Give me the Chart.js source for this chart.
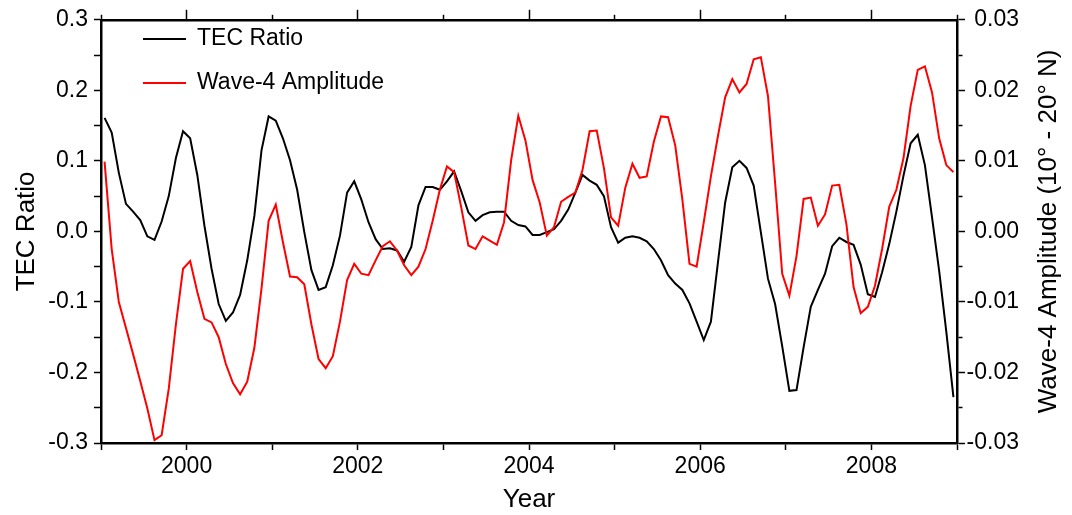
<!DOCTYPE html>
<html>
<head>
<meta charset="utf-8">
<script src="https://cdn.jsdelivr.net/npm/chart.js@4.4.1/dist/chart.umd.min.js"></script>
<style>
    body { margin: 0; background: #fff; }
    #tec-chart { display: block; }
</style>
</head>
<body>
<canvas id="tec-chart" width="1072" height="515"></canvas>
<script>
    // monthly means, Jan 1999 .. Dec 2008
    const startYear = 1999;
    const tecRatio = [
        0.161, 0.140, 0.083, 0.039, 0.028, 0.016, -0.007, -0.012, 0.014, 0.050, 0.104, 0.142,
        0.132, 0.080, 0.008, -0.053, -0.103, -0.127, -0.115, -0.090, -0.041, 0.022, 0.115, 0.163,
        0.157, 0.132, 0.101, 0.059, -0.001, -0.055, -0.083, -0.079, -0.048, -0.006, 0.055, 0.071,
        0.045, 0.013, -0.011, -0.025, -0.024, -0.027, -0.043, -0.022, 0.037, 0.063, 0.063, 0.059,
        0.071, 0.085, 0.057, 0.027, 0.015, 0.023, 0.027, 0.028, 0.028, 0.015, 0.009, 0.007,
        -0.005, -0.005, -0.001, 0.003, 0.015, 0.031, 0.055, 0.080, 0.072, 0.066, 0.050, 0.006,
        -0.016, -0.009, -0.007, -0.009, -0.014, -0.025, -0.041, -0.062, -0.074, -0.083, -0.102, -0.128,
        -0.154, -0.128, -0.043, 0.041, 0.091, 0.100, 0.090, 0.065, -0.001, -0.067, -0.103, -0.163,
        -0.226, -0.225, -0.164, -0.107, -0.083, -0.060, -0.021, -0.009, -0.015, -0.019, -0.047, -0.089,
        -0.093, -0.058, -0.018, 0.028, 0.079, 0.125, 0.137, 0.094, 0.020, -0.056, -0.142, -0.235
    ];
    const wave4Amp = [
        0.0099, -0.0025, -0.0100, -0.0137, -0.0174, -0.0212, -0.0251, -0.0296, -0.0289, -0.0223, -0.0132, -0.0053,
        -0.0042, -0.0086, -0.0124, -0.0129, -0.0150, -0.0188, -0.0215, -0.0231, -0.0213, -0.0165, -0.0081, 0.0015,
        0.0038, -0.0015, -0.0064, -0.0065, -0.0075, -0.0132, -0.0181, -0.0194, -0.0177, -0.0128, -0.0069, -0.0046,
        -0.0060, -0.0062, -0.0041, -0.0021, -0.0014, -0.0027, -0.0048, -0.0062, -0.0050, -0.0025, 0.0015, 0.0059,
        0.0092, 0.0084, 0.0034, -0.0020, -0.0025, -0.0007, -0.0013, -0.0019, 0.0013, 0.0101, 0.0164, 0.0129,
        0.0073, 0.0041, -0.0006, 0.0006, 0.0042, 0.0049, 0.0055, 0.0087, 0.0142, 0.0143, 0.0090, 0.0020,
        0.0008, 0.0062, 0.0096, 0.0076, 0.0078, 0.0127, 0.0163, 0.0162, 0.0122, 0.0045, -0.0046, -0.0050,
        0.0013, 0.0078, 0.0136, 0.0190, 0.0216, 0.0197, 0.0209, 0.0244, 0.0247, 0.0192, 0.0069, -0.0060,
        -0.0091, -0.0035, 0.0046, 0.0048, 0.0008, 0.0024, 0.0065, 0.0066, 0.0010, -0.0079, -0.0116, -0.0107,
        -0.0077, -0.0025, 0.0035, 0.0059, 0.0104, 0.0178, 0.0229, 0.0234, 0.0197, 0.0132, 0.0094, 0.0084
    ];
    const yearLabels = [2000, 2002, 2004, 2006, 2008];
    const rightTitle = 'Wave-4 Amplitude (10\u00B0 - 20\u00B0 N)';

    const FONT = "'Liberation Sans', Arial, Helvetica, sans-serif";
    const monthX = tecRatio.map((_, i) => startYear + (i + 0.5) / 12);
    const toPoints = vals => vals.map((v, i) => ({ x: monthX[i], y: v }));

    const tickFont = { family: FONT, size: 23 };
    const titleFont = { family: FONT, size: 26 };
    const frame = { color: '#000', width: 2.5 };

    // legend sits inside the plot, and right title reads bottom-to-top
    const extras = {
        id: 'extras',
        afterDraw(chart) {
            const c = chart.ctx;
            const rows = [39, 83];
            c.save();
            c.font = '23px ' + FONT;
            c.textBaseline = 'middle';
            chart.data.datasets.forEach((ds, i) => {
                c.strokeStyle = ds.borderColor;
                c.lineWidth = 2;
                c.beginPath();
                c.moveTo(143, rows[i]);
                c.lineTo(186, rows[i]);
                c.stroke();
                c.fillStyle = '#000';
                c.fillText(ds.label, 197, rows[i]);
            });
            const s = chart.scales.y1;
            c.translate(1049, (s.top + s.bottom) / 2);
            c.rotate(-Math.PI / 2);
            c.textAlign = 'center';
            c.font = '26px ' + FONT;
            c.fillText(rightTitle, 0, 0);
            c.restore();
        }
    };

    const ctx = document.getElementById('tec-chart').getContext('2d');
    const chart = new Chart(ctx, {
        type: 'line',
        data: {
            datasets: [{
                label: 'TEC Ratio',
                data: toPoints(tecRatio),
                borderColor: '#000000',
                borderWidth: 2,
                pointRadius: 0,
                xAxisID: 'x',
                yAxisID: 'y',
                order: 1
            }, {
                label: 'Wave-4 Amplitude',
                data: toPoints(wave4Amp),
                borderColor: '#ff0000',
                borderWidth: 2,
                pointRadius: 0,
                xAxisID: 'x',
                yAxisID: 'y1',
                order: 0
            }]
        },
        options: {
            responsive: false,
            animation: false,
            devicePixelRatio: 1,
            // right padding leaves room for the hand-drawn right title
            layout: { padding: { left: 0, top: 0, bottom: 0, right: 53 } },
            plugins: {
                legend: { display: false },
                tooltip: { enabled: false }
            },
            scales: {
                x: {
                    type: 'linear',
                    position: 'bottom',
                    min: 1999,
                    max: 2009,
                    afterFit: s => { s.height = 72; },
                    ticks: {
                        stepSize: 1, autoSkip: false, maxRotation: 0, padding: 3,
                        color: '#000', font: tickFont,
                        callback: v => yearLabels.includes(v) ? String(v) : ''
                    },
                    grid: { drawOnChartArea: false, tickLength: 7, tickWidth: 1.5, tickColor: '#000' },
                    border: frame,
                    title: { display: true, text: 'Year', color: '#000', font: titleFont, padding: { top: 0, bottom: 0 } }
                },
                xTop: {
                    type: 'linear',
                    position: 'top',
                    min: 1999,
                    max: 2009,
                    afterFit: s => { s.height = 15; },
                    ticks: { stepSize: 1, autoSkip: false, maxRotation: 0, padding: 0, font: tickFont, callback: () => '' },
                    grid: {
                        drawOnChartArea: false, tickLength: 10, tickWidth: 1.5, tickColor: '#000',
                        tickBorderDash: c => c.tick.value % 2 === 0 ? [] : [5, 5],
                        tickBorderDashOffset: c => c.tick.value % 2 === 0 ? 0 : 5
                    },
                    border: frame
                },
                y: {
                    position: 'left',
                    min: -0.3,
                    max: 0.3,
                    afterFit: s => { s.width = 101; },
                    ticks: {
                        stepSize: 0.05, autoSkip: false, padding: 6,
                        color: '#000', font: tickFont,
                        callback: v => Math.round(v * 100) % 10 === 0 ? (Math.round(v * 10) / 10).toFixed(1) : ''
                    },
                    grid: { drawOnChartArea: false, tickLength: 7, tickWidth: 1.5, tickColor: '#000' },
                    border: frame,
                    title: { display: true, text: 'TEC Ratio', color: '#000', font: titleFont, padding: { top: 11, bottom: 0 } }
                },
                y1: {
                    position: 'right',
                    min: -0.03,
                    max: 0.03,
                    // labels are right-aligned to the outer edge of this box
                    afterFit: s => { s.width = 62; },
                    ticks: {
                        stepSize: 0.005, autoSkip: false, padding: 3, crossAlign: 'far',
                        color: '#000', font: tickFont,
                        callback: v => Math.round(v * 1000) % 10 === 0 ? (Math.round(v * 100) / 100).toFixed(2) : ''
                    },
                    grid: {
                        drawOnChartArea: false, tickLength: 8, tickWidth: 1.5, tickColor: '#000',
                        tickBorderDash: c => Math.round(c.tick.value * 1000) % 10 === 0 ? [] : [4, 20]
                    },
                    border: frame
                }
            }
        },
        plugins: [extras]
    });
</script>
</body>
</html>
